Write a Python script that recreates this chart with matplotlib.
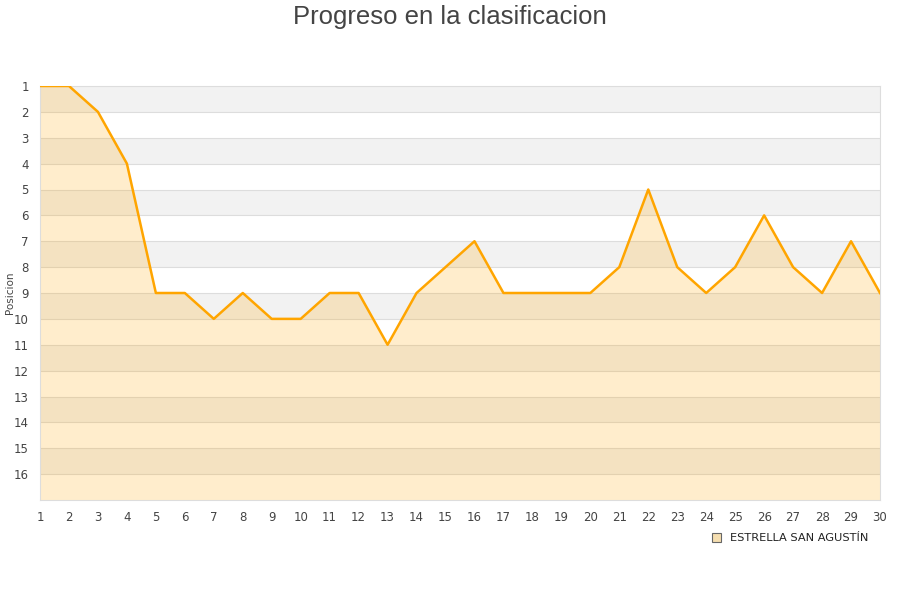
import matplotlib
matplotlib.use("Agg")
import matplotlib.pyplot as plt
from matplotlib.patches import Patch

jornadas = list(range(1, 31))
posicion = [1, 1, 2, 4, 9, 9, 10, 9, 10, 10, 9, 9, 11, 9, 8, 7, 9, 9, 9, 9,
            8, 5, 8, 9, 8, 6, 8, 9, 7, 9]
equipo = "ESTRELLA SAN AGUSTÍN"
y_ticks = list(range(1, 17))

fig = plt.figure(figsize=(9, 6), dpi=100)
ax = fig.add_axes([40 / 900, 100 / 600, 840 / 900, 414 / 600])

# bandas alternas
for k in range(1, 17, 2):
    ax.axhspan(k, k + 1, color="#f2f2f2", zorder=0, lw=0)
for k in range(2, 17):
    ax.axhline(k, color="#dddddd", lw=0.8, zorder=1)

ax.fill_between(jornadas, posicion, 17, color="#ffa500", alpha=0.2, lw=0, zorder=2)
ax.plot(jornadas, posicion, color="#ffa500", lw=1.8, zorder=3)

ax.set_xlim(1, 30)
ax.set_ylim(17, 1)
ax.set_xticks(jornadas)
ax.set_yticks(y_ticks)
ax.tick_params(axis="both", length=0, labelsize=8.5, colors="#444444", pad=8)
for s in ax.spines.values():
    s.set_color("#dddddd")

fig.text(10 / 900, 1 - 293 / 600, "Posicion", rotation=90, ha="center", va="center",
         fontsize=7.5, color="#444444")

fig.text(0.5, 1 - 17 / 600, "Progreso en la clasificacion", ha="center", va="center",
         fontsize=18.5, color="#444444", family="Liberation Sans")

fig.legend(handles=[Patch(facecolor="#f5deb0", edgecolor="#666666", lw=0.8, label=equipo)],
           loc="center left", bbox_to_anchor=(702 / 900, 1 - 538 / 600), frameon=False,
           fontsize=8.2, handlelength=0.8, handleheight=0.8, handletextpad=0.8,
           labelcolor="#222222")

fig.savefig("out.png", dpi=100)
